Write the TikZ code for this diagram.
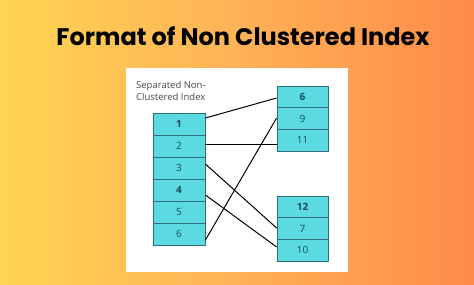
\documentclass[tikz,border=0pt]{standalone}
\usepackage{fontspec}
\setmainfont{Open Sans}
\newfontfamily\titlefont{Poppins}
\usetikzlibrary{positioning,calc}
\definecolor{bgL}{HTML}{FFD452}
\definecolor{bgM}{HTML}{FFB257}
\definecolor{bgR}{HTML}{FF8A48}
\definecolor{cellfill}{HTML}{5CDAE2}
\definecolor{cellline}{HTML}{2F6E78}
\definecolor{celltext}{HTML}{184A55}
\definecolor{labelgray}{HTML}{4A4A4A}
\begin{document}
\begin{tikzpicture}[x=1pt,y=-1pt,
  cell/.style={draw=cellline, line width=0.8pt, fill=cellfill, minimum width=52pt, minimum height=22pt, inner sep=0pt, font=\fontsize{10}{12}\selectfont, text=celltext},
  rcell/.style={cell, minimum width=51pt, minimum height=21.7pt},
  link/.style={draw=black, line width=1pt}]
\useasboundingbox (0,0) rectangle (474,284);
\shade[left color=bgL, right color=bgR, middle color=bgM] (0,0) rectangle (474,284);
\node[font=\titlefont\bfseries\fontsize{24}{28}\selectfont, text=black] (title) at (243,36) {Format of Non Clustered Index};
\fill[white] (126,68) rectangle (348,272);
\node[align=left, anchor=north west, inner sep=0pt, text=labelgray, font=\fontsize{9.5}{12.5}\selectfont] (lbl) at (136,81) {Separated Non-\\Clustered Index};
% left column
\node[cell] (l1) at (179,124) {\textbf{1}};
\node[cell] (l2) at (179,146) {2};
\node[cell] (l3) at (179,168) {3};
\node[cell] (l4) at (179,190) {\textbf{4}};
\node[cell] (l5) at (179,212) {5};
\node[cell] (l6) at (179,234) {6};
% right top
\node[rcell] (r6) at (302.5,97) {\textbf{6}};
\node[rcell] (r9) at (302.5,118.7) {9};
\node[rcell] (r11) at (302.5,140.4) {11};
% right bottom
\node[rcell] (r12) at (302.5,207) {\textbf{12}};
\node[rcell] (r7) at (302.5,228.7) {7};
\node[rcell] (r10) at (302.5,250.4) {10};
% links
\draw[link] ($(l1.east)+(0,-6)$) -- ($(r6.west)+(0,1)$);
\draw[link] ($(l2.east)+(0,-2)$) -- ($(r11.west)+(0,3.6)$);
\draw[link] ($(l3.east)+(0,-4)$) -- ($(r7.west)+(0,-0.7)$);
\draw[link] ($(l4.east)+(0,5)$) -- ($(r10.west)+(0,-3.4)$);
\draw[link] ($(l6.east)+(0,6)$) -- ($(r9.west)+(0,-0.7)$);
\end{tikzpicture}
\end{document}
